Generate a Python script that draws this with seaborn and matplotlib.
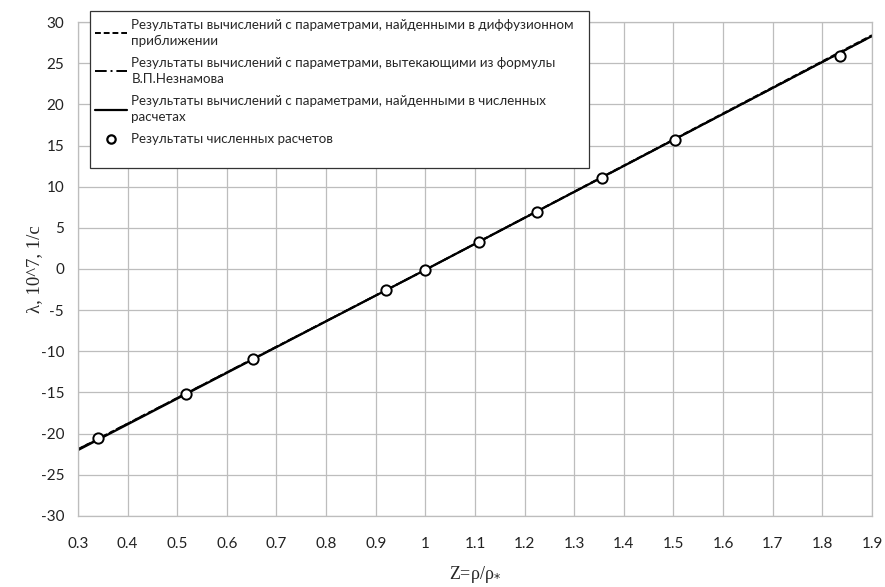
import numpy as np
import pandas as pd
import seaborn as sns
import matplotlib.pyplot as plt
from matplotlib.lines import Line2D
from matplotlib.patches import Rectangle

# данные
z_line = [0.3, 1.0, 1.9]
lam_diff = [-21.9, -0.1, 28.4]     # диффузионное приближение
lam_nez = [-21.9, -0.1, 28.3]      # формула Незнамова
lam_num = [-22.0, -0.1, 28.3]      # параметры из численных расчетов

z_pts = [0.34, 0.517, 0.652, 0.92, 1.0, 1.108, 1.225, 1.355, 1.503, 1.835]
lam_pts = [-20.5, -15.2, -10.9, -2.6, -0.1, 3.3, 6.9, 11.0, 15.7, 25.9]

labels = [
    "Результаты вычислений с параметрами, найденными в диффузионном\nприближении",
    "Результаты вычислений с параметрами, вытекающими из формулы\nВ.П.Незнамова",
    "Результаты вычислений с параметрами, найденными в численных\nрасчетах",
    "Результаты численных расчетов",
]

sns.set_style("white")
plt.rcParams['font.family'] = ['Lato', 'DejaVu Sans']
plt.rcParams['axes.unicode_minus'] = False

fig = plt.figure(figsize=(8.85, 5.87), dpi=100)
ax = fig.add_axes([0.0881, 0.121, 0.8972, 0.8415])

df_line = pd.DataFrame({"z": z_line, "diff": lam_diff, "nez": lam_nez, "num": lam_num})
pts = pd.DataFrame({"z": z_pts, "lam": lam_pts})

sns.lineplot(data=df_line, x="z", y="num", ax=ax, color="black", lw=1.6, linestyle="-")
sns.lineplot(data=df_line, x="z", y="nez", ax=ax, color="black", lw=1.4, linestyle=(0, (6, 2, 1, 2)))
sns.lineplot(data=df_line, x="z", y="diff", ax=ax, color="black", lw=1.4, linestyle=(0, (3, 1.5)))
sns.scatterplot(data=pts, x="z", y="lam", ax=ax, s=55, color="white",
                edgecolor="black", linewidth=1.4, zorder=5)

ax.set_xlim(0.3, 1.9)
ax.set_ylim(-30, 30)
ax.set_xticks(np.round(np.arange(0.3, 1.91, 0.1), 1))
ax.set_xticklabels(["0.3", "0.4", "0.5", "0.6", "0.7", "0.8", "0.9", "1", "1.1", "1.2",
                    "1.3", "1.4", "1.5", "1.6", "1.7", "1.8", "1.9"])
ax.set_yticks(range(-30, 31, 5))
ax.grid(True, color="#bdbdbd", lw=0.9)
for s in ax.spines.values():
    s.set_color("#bdbdbd")
    s.set_linewidth(0.9)
ax.tick_params(axis="both", direction="out", length=6, width=0.9, color="#bdbdbd",
               labelsize=11, labelcolor="#222222")
ax.tick_params(axis="x", pad=9)
ax.tick_params(axis="y", pad=4)

ax.set_xlabel("Z=ρ/ρ$_{*}$", family="Liberation Serif", fontsize=13)
ax.set_ylabel("λ, 10^7, 1/c", family="Liberation Serif", fontsize=13.5)
ax.xaxis.set_label_coords(0.5, -0.097)
ax.yaxis.set_label_coords(-0.044, 0.5)

# рамка легенды как в Excel
ax.add_patch(Rectangle((90 / 885, 1 - 168 / 587), (589 - 90) / 885, (168 - 11) / 587,
                       transform=fig.transFigure, facecolor="white", edgecolor="#333333",
                       lw=0.9, zorder=10, clip_on=False))

handles = [
    Line2D([], [], color="black", lw=1.4, linestyle=(0, (3, 1.5))),
    Line2D([], [], color="black", lw=1.4, linestyle=(0, (6, 2, 1, 2))),
    Line2D([], [], color="black", lw=1.6),
    Line2D([], [], color="black", marker="o", markersize=6, markerfacecolor="white",
           markeredgewidth=1.6, linestyle="none"),
]
leg = ax.legend(handles, labels, loc="upper left", bbox_to_anchor=(92 / 885, 1 - 16 / 587),
                bbox_transform=fig.transFigure, fontsize=9.6, frameon=False,
                handlelength=2.45, handletextpad=0.3, borderpad=0.2, labelspacing=0.75,
                borderaxespad=0)
for t in leg.get_texts():
    t.set_linespacing(1.42)
leg.set_zorder(11)

fig.savefig("out.png", dpi=100)
